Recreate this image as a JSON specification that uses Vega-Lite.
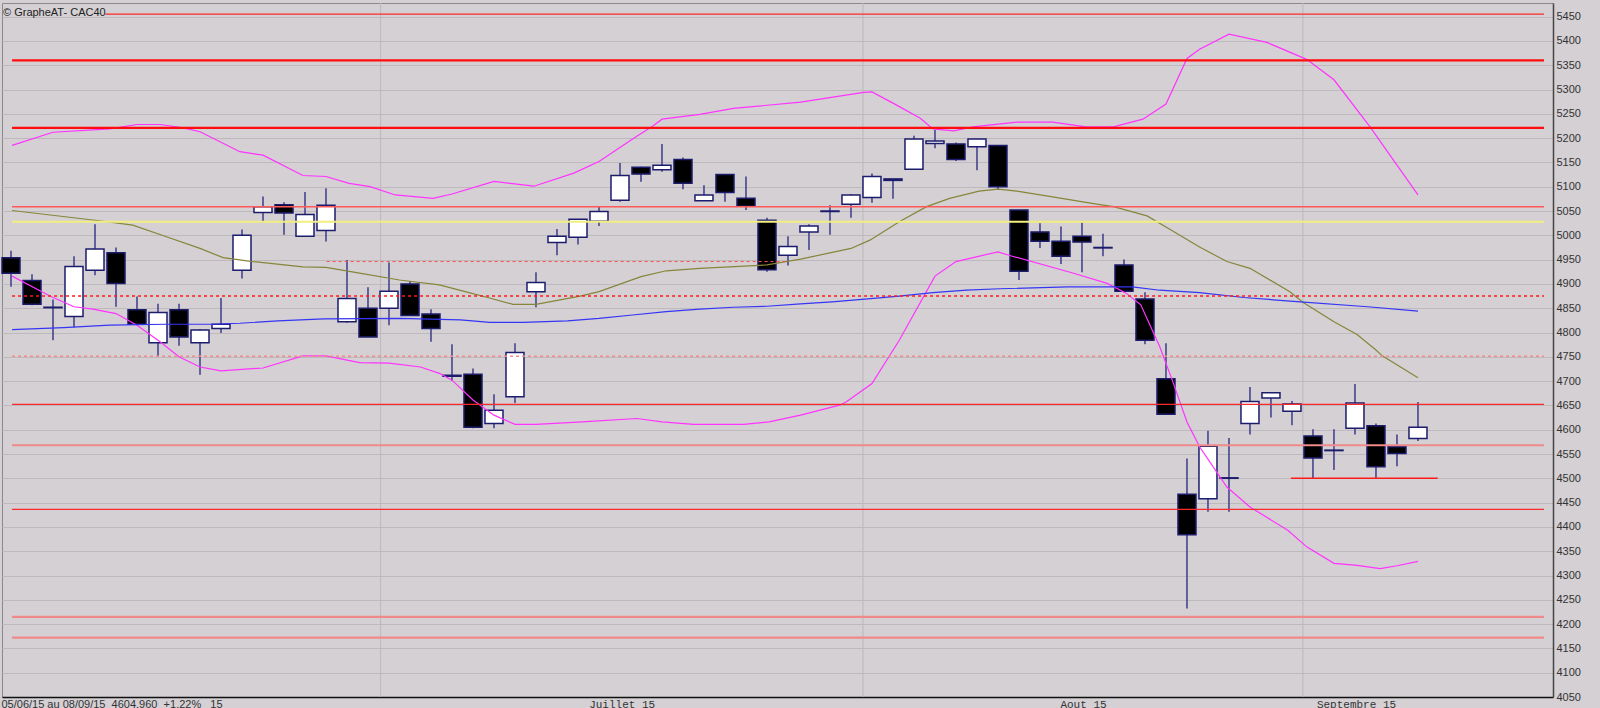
{
  "$schema": "https://vega.github.io/schema/vega-lite/v6.json",
  "autosize": {"type": "none"},
  "width": 1551,
  "height": 694,
  "padding": {"left": 2, "top": 3, "right": 47, "bottom": 11},
  "background": "#d4d0d4",
  "title": {"text": "© GrapheAT- CAC40", "anchor": "start", "frame": "group", "orient": "top", "offset": 0, "dy": 15, "dx": 1, "font": "Liberation Sans", "fontSize": 11, "fontWeight": "normal", "color": "#222222"},
  "config": {"view": {"fill": "#d4d0d4", "stroke": "#8a8a8a", "strokeWidth": 1}, "font": "Liberation Sans"},
  "datasets": {
    "mois": [{"b": 17.6}, {"b": 40.57}, {"b": 61.52}],
    "bougies": [
      {"i":0,"o":4954,"h":4968,"l":4894,"c":4922},
      {"i":1,"o":4907,"h":4920,"l":4856,"c":4858},
      {"i":2,"o":4852,"h":4868,"l":4784,"c":4851},
      {"i":3,"o":4833,"h":4957,"l":4811,"c":4936},
      {"i":4,"o":4928,"h":5023,"l":4918,"c":4972},
      {"i":5,"o":4964,"h":4975,"l":4853,"c":4901},
      {"i":6,"o":4847,"h":4874,"l":4815,"c":4817},
      {"i":7,"o":4779,"h":4859,"l":4750,"c":4841},
      {"i":8,"o":4847,"h":4859,"l":4773,"c":4791},
      {"i":9,"o":4779,"h":4807,"l":4713,"c":4805},
      {"i":10,"o":4808,"h":4871,"l":4799,"c":4817},
      {"i":11,"o":4928,"h":5012,"l":4911,"c":5000},
      {"i":12,"o":5047,"h":5080,"l":5027,"c":5059},
      {"i":13,"o":5063,"h":5068,"l":5001,"c":5046},
      {"i":14,"o":4998,"h":5089,"l":4998,"c":5043},
      {"i":15,"o":5010,"h":5097,"l":4987,"c":5062},
      {"i":16,"o":4822,"h":4949,"l":4820,"c":4870},
      {"i":17,"o":4850,"h":4893,"l":4791,"c":4791},
      {"i":18,"o":4850,"h":4944,"l":4815,"c":4885},
      {"i":19,"o":4900,"h":4906,"l":4834,"c":4835},
      {"i":20,"o":4838,"h":4848,"l":4781,"c":4808},
      {"i":21,"o":4712,"h":4776,"l":4700,"c":4710},
      {"i":22,"o":4714,"h":4726,"l":4603,"c":4605},
      {"i":23,"o":4613,"h":4673,"l":4603,"c":4640},
      {"i":24,"o":4668,"h":4778,"l":4655,"c":4759},
      {"i":25,"o":4884,"h":4924,"l":4852,"c":4903},
      {"i":26,"o":4985,"h":5013,"l":4959,"c":4998},
      {"i":27,"o":4996,"h":5033,"l":4981,"c":5033},
      {"i":28,"o":5029,"h":5058,"l":5019,"c":5049},
      {"i":29,"o":5072,"h":5149,"l":5069,"c":5123},
      {"i":30,"o":5140,"h":5141,"l":5110,"c":5126},
      {"i":31,"o":5135,"h":5188,"l":5131,"c":5144},
      {"i":32,"o":5156,"h":5160,"l":5095,"c":5107},
      {"i":33,"o":5071,"h":5103,"l":5071,"c":5083},
      {"i":34,"o":5125,"h":5125,"l":5069,"c":5088},
      {"i":35,"o":5076,"h":5121,"l":5052,"c":5060},
      {"i":36,"o":5031,"h":5036,"l":4925,"c":4929},
      {"i":37,"o":4959,"h":4998,"l":4938,"c":4977},
      {"i":38,"o":5007,"h":5023,"l":4970,"c":5019},
      {"i":39,"o":5050,"h":5062,"l":5001,"c":5049},
      {"i":40,"o":5064,"h":5085,"l":5036,"c":5083},
      {"i":41,"o":5078,"h":5127,"l":5067,"c":5121},
      {"i":42,"o":5116,"h":5116,"l":5075,"c":5113},
      {"i":43,"o":5136,"h":5205,"l":5136,"c":5198},
      {"i":44,"o":5189,"h":5217,"l":5179,"c":5194},
      {"i":45,"o":5188,"h":5191,"l":5153,"c":5156},
      {"i":46,"o":5182,"h":5198,"l":5134,"c":5198},
      {"i":47,"o":5185,"h":5185,"l":5095,"c":5100},
      {"i":48,"o":5052,"h":5052,"l":4908,"c":4926},
      {"i":49,"o":5007,"h":5025,"l":4974,"c":4988},
      {"i":50,"o":4988,"h":5018,"l":4941,"c":4957},
      {"i":51,"o":4998,"h":5026,"l":4924,"c":4986},
      {"i":52,"o":4975,"h":5003,"l":4957,"c":4974},
      {"i":53,"o":4939,"h":4950,"l":4885,"c":4885},
      {"i":54,"o":4869,"h":4883,"l":4776,"c":4784},
      {"i":55,"o":4705,"h":4778,"l":4632,"c":4632},
      {"i":56,"o":4467,"h":4541,"l":4232,"c":4384},
      {"i":57,"o":4458,"h":4598,"l":4431,"c":4566},
      {"i":58,"o":4501,"h":4583,"l":4431,"c":4500},
      {"i":59,"o":4613,"h":4688,"l":4590,"c":4658},
      {"i":60,"o":4665,"h":4676,"l":4625,"c":4676},
      {"i":61,"o":4638,"h":4659,"l":4609,"c":4653},
      {"i":62,"o":4587,"h":4601,"l":4500,"c":4542},
      {"i":63,"o":4558,"h":4601,"l":4517,"c":4557},
      {"i":64,"o":4603,"h":4694,"l":4590,"c":4655},
      {"i":65,"o":4608,"h":4613,"l":4500,"c":4524},
      {"i":66,"o":4565,"h":4590,"l":4525,"c":4551},
      {"i":67,"o":4582,"h":4657,"l":4577,"c":4605}
    ],
    "moyennes": [
      {"s":"haut","i":0.05,"v":5185},{"s":"haut","i":2.0,"v":5212},{"s":"haut","i":4.7,"v":5219},{"s":"haut","i":6.0,"v":5228},{"s":"haut","i":7.1,"v":5228},{"s":"haut","i":8.2,"v":5221},{"s":"haut","i":9.0,"v":5213},{"s":"haut","i":10.9,"v":5172},{"s":"haut","i":12.0,"v":5165},{"s":"haut","i":13.9,"v":5123},{"s":"haut","i":15.0,"v":5121},{"s":"haut","i":16.1,"v":5107},{"s":"haut","i":17.1,"v":5100},{"s":"haut","i":18.3,"v":5083},{"s":"haut","i":20.1,"v":5076},{"s":"haut","i":21.0,"v":5085},{"s":"haut","i":23.0,"v":5111},{"s":"haut","i":24.9,"v":5101},{"s":"haut","i":26.8,"v":5128},{"s":"haut","i":28.0,"v":5152},{"s":"haut","i":29.6,"v":5198},{"s":"haut","i":30.6,"v":5226},{"s":"haut","i":31.0,"v":5239},{"s":"haut","i":32.8,"v":5249},{"s":"haut","i":34.4,"v":5261},{"s":"haut","i":37.6,"v":5274},{"s":"haut","i":40.6,"v":5294},{"s":"haut","i":41.0,"v":5295},{"s":"haut","i":42.0,"v":5272},{"s":"haut","i":43.3,"v":5241},{"s":"haut","i":43.9,"v":5219},{"s":"haut","i":44.9,"v":5215},{"s":"haut","i":45.8,"v":5223},{"s":"haut","i":47.9,"v":5233},{"s":"haut","i":49.6,"v":5233},{"s":"haut","i":51.2,"v":5223},{"s":"haut","i":52.5,"v":5223},{"s":"haut","i":53.9,"v":5239},{"s":"haut","i":55.0,"v":5270},{"s":"haut","i":56.0,"v":5364},{"s":"haut","i":56.6,"v":5383},{"s":"haut","i":58.0,"v":5414},{"s":"haut","i":59.8,"v":5397},{"s":"haut","i":61.7,"v":5362},{"s":"haut","i":63.0,"v":5320},{"s":"haut","i":64.7,"v":5224},{"s":"haut","i":67.0,"v":5083},
      {"s":"moyenne","i":0.05,"v":5051},{"s":"moyenne","i":4.2,"v":5030},{"s":"moyenne","i":5.8,"v":5021},{"s":"moyenne","i":7.4,"v":4997},{"s":"moyenne","i":9.0,"v":4973},{"s":"moyenne","i":10.1,"v":4954},{"s":"moyenne","i":11.5,"v":4946},{"s":"moyenne","i":13.9,"v":4935},{"s":"moyenne","i":15.0,"v":4934},{"s":"moyenne","i":16.6,"v":4922},{"s":"moyenne","i":18.5,"v":4908},{"s":"moyenne","i":20.4,"v":4898},{"s":"moyenne","i":21.9,"v":4881},{"s":"moyenne","i":22.7,"v":4872},{"s":"moyenne","i":23.9,"v":4858},{"s":"moyenne","i":25.0,"v":4858},{"s":"moyenne","i":27.1,"v":4875},{"s":"moyenne","i":28.0,"v":4884},{"s":"moyenne","i":30.0,"v":4915},{"s":"moyenne","i":31.2,"v":4927},{"s":"moyenne","i":32.8,"v":4932},{"s":"moyenne","i":36.0,"v":4939},{"s":"moyenne","i":37.6,"v":4951},{"s":"moyenne","i":40.0,"v":4973},{"s":"moyenne","i":40.9,"v":4990},{"s":"moyenne","i":42.3,"v":5028},{"s":"moyenne","i":43.6,"v":5059},{"s":"moyenne","i":44.7,"v":5076},{"s":"moyenne","i":46.1,"v":5091},{"s":"moyenne","i":47.0,"v":5095},{"s":"moyenne","i":47.9,"v":5091},{"s":"moyenne","i":49.6,"v":5079},{"s":"moyenne","i":51.7,"v":5064},{"s":"moyenne","i":52.5,"v":5059},{"s":"moyenne","i":54.1,"v":5040},{"s":"moyenne","i":55.2,"v":5012},{"s":"moyenne","i":56.6,"v":4976},{"s":"moyenne","i":57.9,"v":4946},{"s":"moyenne","i":59.0,"v":4932},{"s":"moyenne","i":60.9,"v":4884},{"s":"moyenne","i":61.5,"v":4863},{"s":"moyenne","i":63.0,"v":4822},{"s":"moyenne","i":64.1,"v":4796},{"s":"moyenne","i":65.0,"v":4764},{"s":"moyenne","i":65.3,"v":4752},{"s":"moyenne","i":67.0,"v":4707},
      {"s":"bas","i":0.05,"v":4916},{"s":"bas","i":1.9,"v":4874},{"s":"bas","i":3.0,"v":4853},{"s":"bas","i":3.9,"v":4848},{"s":"bas","i":5.0,"v":4839},{"s":"bas","i":6.0,"v":4815},{"s":"bas","i":7.1,"v":4781},{"s":"bas","i":8.0,"v":4750},{"s":"bas","i":9.0,"v":4729},{"s":"bas","i":10.0,"v":4721},{"s":"bas","i":12.0,"v":4727},{"s":"bas","i":13.9,"v":4752},{"s":"bas","i":15.0,"v":4752},{"s":"bas","i":16.6,"v":4738},{"s":"bas","i":18.0,"v":4737},{"s":"bas","i":19.5,"v":4729},{"s":"bas","i":20.4,"v":4716},{"s":"bas","i":21.0,"v":4702},{"s":"bas","i":22.0,"v":4661},{"s":"bas","i":23.0,"v":4630},{"s":"bas","i":24.0,"v":4611},{"s":"bas","i":25.0,"v":4611},{"s":"bas","i":27.2,"v":4616},{"s":"bas","i":29.8,"v":4623},{"s":"bas","i":31.0,"v":4616},{"s":"bas","i":32.5,"v":4611},{"s":"bas","i":34.9,"v":4611},{"s":"bas","i":36.1,"v":4616},{"s":"bas","i":37.6,"v":4630},{"s":"bas","i":39.5,"v":4651},{"s":"bas","i":39.8,"v":4658},{"s":"bas","i":41.0,"v":4695},{"s":"bas","i":42.3,"v":4784},{"s":"bas","i":44.0,"v":4916},{"s":"bas","i":45.0,"v":4946},{"s":"bas","i":47.0,"v":4966},{"s":"bas","i":47.6,"v":4958},{"s":"bas","i":50.6,"v":4922},{"s":"bas","i":52.2,"v":4901},{"s":"bas","i":53.1,"v":4881},{"s":"bas","i":53.8,"v":4857},{"s":"bas","i":54.7,"v":4771},{"s":"bas","i":55.3,"v":4702},{"s":"bas","i":56.0,"v":4616},{"s":"bas","i":56.6,"v":4565},{"s":"bas","i":57.9,"v":4482},{"s":"bas","i":59.0,"v":4441},{"s":"bas","i":60.8,"v":4393},{"s":"bas","i":61.7,"v":4359},{"s":"bas","i":63.0,"v":4325},{"s":"bas","i":64.1,"v":4321},{"s":"bas","i":65.2,"v":4314},{"s":"bas","i":66.0,"v":4320},{"s":"bas","i":67.0,"v":4329},
      {"s":"longue","i":0.05,"v":4806},{"s":"longue","i":2.5,"v":4810},{"s":"longue","i":4.7,"v":4815},{"s":"longue","i":7.4,"v":4817},{"s":"longue","i":9.6,"v":4817},{"s":"longue","i":10.9,"v":4819},{"s":"longue","i":12.7,"v":4824},{"s":"longue","i":14.9,"v":4828},{"s":"longue","i":18.5,"v":4829},{"s":"longue","i":21.4,"v":4826},{"s":"longue","i":22.8,"v":4821},{"s":"longue","i":24.4,"v":4821},{"s":"longue","i":26.5,"v":4824},{"s":"longue","i":28.0,"v":4829},{"s":"longue","i":29.6,"v":4836},{"s":"longue","i":31.2,"v":4843},{"s":"longue","i":32.8,"v":4848},{"s":"longue","i":34.4,"v":4852},{"s":"longue","i":36.0,"v":4854},{"s":"longue","i":37.6,"v":4859},{"s":"longue","i":39.1,"v":4863},{"s":"longue","i":40.8,"v":4869},{"s":"longue","i":42.3,"v":4875},{"s":"longue","i":43.9,"v":4882},{"s":"longue","i":45.5,"v":4887},{"s":"longue","i":47.1,"v":4890},{"s":"longue","i":50.3,"v":4894},{"s":"longue","i":53.4,"v":4894},{"s":"longue","i":54.7,"v":4887},{"s":"longue","i":56.6,"v":4882},{"s":"longue","i":58.7,"v":4872},{"s":"longue","i":61.4,"v":4863},{"s":"longue","i":64.6,"v":4853},{"s":"longue","i":67.0,"v":4844}
    ],
    "niveaux": [
      {"v":5455,"a":4.5,"b":73,"k":"fin"},
      {"v":5360,"a":0.05,"b":73,"k":"fort"},
      {"v":5221,"a":0.05,"b":73,"k":"fort"},
      {"v":5059,"a":0.05,"b":73,"k":"corail"},
      {"v":5028,"a":0.05,"b":73,"k":"jaune"},
      {"v":4946,"a":15.03,"b":36.86,"k":"tirets"},
      {"v":4875,"a":0.05,"b":73,"k":"tirets forts"},
      {"v":4751,"a":0.05,"b":73,"k":"tirets clairs"},
      {"v":4652,"a":0.05,"b":73,"k":"fin"},
      {"v":4568,"a":0.05,"b":73,"k":"saumon"},
      {"v":4500,"a":60.95,"b":67.94,"k":"support"},
      {"v":4436,"a":0.05,"b":73,"k":"fin"},
      {"v":4215,"a":0.05,"b":73,"k":"saumon"},
      {"v":4172,"a":0.05,"b":73,"k":"saumon"}
    ]
  },
  "layer": [
    {
      "data": {"name": "mois"},
      "mark": {"type": "rule", "color": "#bcb8bc", "strokeWidth": 1},
      "encoding": {
        "x": {"field": "b", "type": "quantitative", "scale": {"domain": [-0.4286, 73.43], "nice": false, "zero": false, "padding": 0},
          "axis": {"orient": "bottom", "values": [29.08, 51.05, 64.05], "labelExpr": "datum.value < 40 ? 'Juillet 15' : datum.value < 60 ? 'Aout 15' : 'Septembre 15'", "title": "05/06/15 au 08/09/15\u00a0\u00a04604.960\u00a0\u00a0+1.22%\u00a0\u00a0\u00a015", "titleAnchor": "start", "titleAlign": "left", "titleBaseline": "top", "titleX": -1, "titleY": 1, "titleFont": "Liberation Sans", "titleFontSize": 11, "titleFontWeight": "normal", "titleColor": "#333333", "ticks": false, "grid": false, "domain": true, "domainColor": "#101010", "domainWidth": 1.5, "labelFont": "Liberation Mono", "labelFontSize": 11, "labelColor": "#333333", "labelBaseline": "top", "labelPadding": 1, "labelFlush": false, "labelOverlap": false}}
      }
    },
    {
      "data": {"name": "bougies"},
      "mark": {"type": "rule", "color": "#3c3c88", "strokeWidth": 1.5},
      "encoding": {
        "x": {"field": "i", "type": "quantitative", "scale": {"domain": [-0.4286, 73.43], "nice": false, "zero": false, "padding": 0},
          "axis": {"orient": "bottom", "values": [29.08, 51.05, 64.05], "labelExpr": "datum.value < 40 ? 'Juillet 15' : datum.value < 60 ? 'Aout 15' : 'Septembre 15'", "title": "05/06/15 au 08/09/15\u00a0\u00a04604.960\u00a0\u00a0+1.22%\u00a0\u00a0\u00a015", "titleAnchor": "start", "titleAlign": "left", "titleBaseline": "top", "titleX": -1, "titleY": 1, "titleFont": "Liberation Sans", "titleFontSize": 11, "titleFontWeight": "normal", "titleColor": "#333333", "ticks": false, "grid": false, "domain": true, "domainColor": "#101010", "domainWidth": 1.5, "labelFont": "Liberation Mono", "labelFontSize": 11, "labelColor": "#333333", "labelBaseline": "top", "labelPadding": 1, "labelFlush": false, "labelOverlap": false}},
        "y": {"field": "l", "type": "quantitative", "scale": {"domain": [4050, 5478], "nice": false, "zero": false, "padding": 0},
          "axis": {"orient": "right", "format": "d", "values": [4050,4100,4150,4200,4250,4300,4350,4400,4450,4500,4550,4600,4650,4700,4750,4800,4850,4900,4950,5000,5050,5100,5150,5200,5250,5300,5350,5400,5450], "title": null, "ticks": false, "labelPadding": 3, "labelFont": "Liberation Sans", "labelFontSize": 11, "labelColor": "#333333", "grid": true, "gridColor": "#bdb9bd", "gridWidth": 1, "domain": true, "domainColor": "#454545", "domainWidth": 1.5, "labelFlush": false, "labelOverlap": false}},
        "y2": {"field": "h"}
      }
    },
    {
      "data": {"name": "bougies"},
      "mark": {"type": "bar", "size": 18, "stroke": "#1c1c6c", "strokeWidth": 1.5},
      "encoding": {
        "x": {"field": "i", "type": "quantitative", "scale": {"domain": [-0.4286, 73.43], "nice": false, "zero": false, "padding": 0},
          "axis": {"orient": "bottom", "values": [29.08, 51.05, 64.05], "labelExpr": "datum.value < 40 ? 'Juillet 15' : datum.value < 60 ? 'Aout 15' : 'Septembre 15'", "title": "05/06/15 au 08/09/15\u00a0\u00a04604.960\u00a0\u00a0+1.22%\u00a0\u00a0\u00a015", "titleAnchor": "start", "titleAlign": "left", "titleBaseline": "top", "titleX": -1, "titleY": 1, "titleFont": "Liberation Sans", "titleFontSize": 11, "titleFontWeight": "normal", "titleColor": "#333333", "ticks": false, "grid": false, "domain": true, "domainColor": "#101010", "domainWidth": 1.5, "labelFont": "Liberation Mono", "labelFontSize": 11, "labelColor": "#333333", "labelBaseline": "top", "labelPadding": 1, "labelFlush": false, "labelOverlap": false}},
        "y": {"field": "o", "type": "quantitative", "scale": {"domain": [4050, 5478], "nice": false, "zero": false, "padding": 0},
          "axis": {"orient": "right", "format": "d", "values": [4050,4100,4150,4200,4250,4300,4350,4400,4450,4500,4550,4600,4650,4700,4750,4800,4850,4900,4950,5000,5050,5100,5150,5200,5250,5300,5350,5400,5450], "title": null, "ticks": false, "labelPadding": 3, "labelFont": "Liberation Sans", "labelFontSize": 11, "labelColor": "#333333", "grid": true, "gridColor": "#bdb9bd", "gridWidth": 1, "domain": true, "domainColor": "#454545", "domainWidth": 1.5, "labelFlush": false, "labelOverlap": false}},
        "y2": {"field": "c"},
        "fill": {"condition": {"test": "datum.c < datum.o", "value": "#000000"}, "value": "#ffffff"}
      }
    },
    {
      "data": {"name": "moyennes"},
      "mark": {"type": "line", "strokeWidth": 1.2},
      "encoding": {
        "x": {"field": "i", "type": "quantitative", "scale": {"domain": [-0.4286, 73.43], "nice": false, "zero": false, "padding": 0},
          "axis": {"orient": "bottom", "values": [29.08, 51.05, 64.05], "labelExpr": "datum.value < 40 ? 'Juillet 15' : datum.value < 60 ? 'Aout 15' : 'Septembre 15'", "title": "05/06/15 au 08/09/15\u00a0\u00a04604.960\u00a0\u00a0+1.22%\u00a0\u00a0\u00a015", "titleAnchor": "start", "titleAlign": "left", "titleBaseline": "top", "titleX": -1, "titleY": 1, "titleFont": "Liberation Sans", "titleFontSize": 11, "titleFontWeight": "normal", "titleColor": "#333333", "ticks": false, "grid": false, "domain": true, "domainColor": "#101010", "domainWidth": 1.5, "labelFont": "Liberation Mono", "labelFontSize": 11, "labelColor": "#333333", "labelBaseline": "top", "labelPadding": 1, "labelFlush": false, "labelOverlap": false}},
        "y": {"field": "v", "type": "quantitative", "scale": {"domain": [4050, 5478], "nice": false, "zero": false, "padding": 0},
          "axis": {"orient": "right", "format": "d", "values": [4050,4100,4150,4200,4250,4300,4350,4400,4450,4500,4550,4600,4650,4700,4750,4800,4850,4900,4950,5000,5050,5100,5150,5200,5250,5300,5350,5400,5450], "title": null, "ticks": false, "labelPadding": 3, "labelFont": "Liberation Sans", "labelFontSize": 11, "labelColor": "#333333", "grid": true, "gridColor": "#bdb9bd", "gridWidth": 1, "domain": true, "domainColor": "#454545", "domainWidth": 1.5, "labelFlush": false, "labelOverlap": false}},
        "color": {"field": "s", "type": "nominal", "scale": {"domain": ["haut", "bas", "moyenne", "longue"], "range": ["#ff33ff", "#ff33ff", "#86863a", "#3535f5"]}, "legend": null}
      }
    },
    {
      "data": {"name": "niveaux"},
      "transform": [{"filter": "datum.k == 'fort'"}],
      "mark": {"type": "rule", "color": "#ff0d0d", "strokeWidth": 2.2},
      "encoding": {
        "x": {"field": "a", "type": "quantitative", "scale": {"domain": [-0.4286, 73.43], "nice": false, "zero": false, "padding": 0},
          "axis": {"orient": "bottom", "values": [29.08, 51.05, 64.05], "labelExpr": "datum.value < 40 ? 'Juillet 15' : datum.value < 60 ? 'Aout 15' : 'Septembre 15'", "title": "05/06/15 au 08/09/15\u00a0\u00a04604.960\u00a0\u00a0+1.22%\u00a0\u00a0\u00a015", "titleAnchor": "start", "titleAlign": "left", "titleBaseline": "top", "titleX": -1, "titleY": 1, "titleFont": "Liberation Sans", "titleFontSize": 11, "titleFontWeight": "normal", "titleColor": "#333333", "ticks": false, "grid": false, "domain": true, "domainColor": "#101010", "domainWidth": 1.5, "labelFont": "Liberation Mono", "labelFontSize": 11, "labelColor": "#333333", "labelBaseline": "top", "labelPadding": 1, "labelFlush": false, "labelOverlap": false}},
        "x2": {"field": "b"},
        "y": {"field": "v", "type": "quantitative", "scale": {"domain": [4050, 5478], "nice": false, "zero": false, "padding": 0},
          "axis": {"orient": "right", "format": "d", "values": [4050,4100,4150,4200,4250,4300,4350,4400,4450,4500,4550,4600,4650,4700,4750,4800,4850,4900,4950,5000,5050,5100,5150,5200,5250,5300,5350,5400,5450], "title": null, "ticks": false, "labelPadding": 3, "labelFont": "Liberation Sans", "labelFontSize": 11, "labelColor": "#333333", "grid": true, "gridColor": "#bdb9bd", "gridWidth": 1, "domain": true, "domainColor": "#454545", "domainWidth": 1.5, "labelFlush": false, "labelOverlap": false}}
      }
    },
    {
      "data": {"name": "niveaux"},
      "transform": [{"filter": "datum.k == 'fin'"}],
      "mark": {"type": "rule", "color": "#fa2a2a", "strokeWidth": 1.2},
      "encoding": {
        "x": {"field": "a", "type": "quantitative", "scale": {"domain": [-0.4286, 73.43], "nice": false, "zero": false, "padding": 0},
          "axis": {"orient": "bottom", "values": [29.08, 51.05, 64.05], "labelExpr": "datum.value < 40 ? 'Juillet 15' : datum.value < 60 ? 'Aout 15' : 'Septembre 15'", "title": "05/06/15 au 08/09/15\u00a0\u00a04604.960\u00a0\u00a0+1.22%\u00a0\u00a0\u00a015", "titleAnchor": "start", "titleAlign": "left", "titleBaseline": "top", "titleX": -1, "titleY": 1, "titleFont": "Liberation Sans", "titleFontSize": 11, "titleFontWeight": "normal", "titleColor": "#333333", "ticks": false, "grid": false, "domain": true, "domainColor": "#101010", "domainWidth": 1.5, "labelFont": "Liberation Mono", "labelFontSize": 11, "labelColor": "#333333", "labelBaseline": "top", "labelPadding": 1, "labelFlush": false, "labelOverlap": false}},
        "x2": {"field": "b"},
        "y": {"field": "v", "type": "quantitative", "scale": {"domain": [4050, 5478], "nice": false, "zero": false, "padding": 0},
          "axis": {"orient": "right", "format": "d", "values": [4050,4100,4150,4200,4250,4300,4350,4400,4450,4500,4550,4600,4650,4700,4750,4800,4850,4900,4950,5000,5050,5100,5150,5200,5250,5300,5350,5400,5450], "title": null, "ticks": false, "labelPadding": 3, "labelFont": "Liberation Sans", "labelFontSize": 11, "labelColor": "#333333", "grid": true, "gridColor": "#bdb9bd", "gridWidth": 1, "domain": true, "domainColor": "#454545", "domainWidth": 1.5, "labelFlush": false, "labelOverlap": false}}
      }
    },
    {
      "data": {"name": "niveaux"},
      "transform": [{"filter": "datum.k == 'corail'"}],
      "mark": {"type": "rule", "color": "#ff5858", "strokeWidth": 1.5},
      "encoding": {
        "x": {"field": "a", "type": "quantitative", "scale": {"domain": [-0.4286, 73.43], "nice": false, "zero": false, "padding": 0},
          "axis": {"orient": "bottom", "values": [29.08, 51.05, 64.05], "labelExpr": "datum.value < 40 ? 'Juillet 15' : datum.value < 60 ? 'Aout 15' : 'Septembre 15'", "title": "05/06/15 au 08/09/15\u00a0\u00a04604.960\u00a0\u00a0+1.22%\u00a0\u00a0\u00a015", "titleAnchor": "start", "titleAlign": "left", "titleBaseline": "top", "titleX": -1, "titleY": 1, "titleFont": "Liberation Sans", "titleFontSize": 11, "titleFontWeight": "normal", "titleColor": "#333333", "ticks": false, "grid": false, "domain": true, "domainColor": "#101010", "domainWidth": 1.5, "labelFont": "Liberation Mono", "labelFontSize": 11, "labelColor": "#333333", "labelBaseline": "top", "labelPadding": 1, "labelFlush": false, "labelOverlap": false}},
        "x2": {"field": "b"},
        "y": {"field": "v", "type": "quantitative", "scale": {"domain": [4050, 5478], "nice": false, "zero": false, "padding": 0},
          "axis": {"orient": "right", "format": "d", "values": [4050,4100,4150,4200,4250,4300,4350,4400,4450,4500,4550,4600,4650,4700,4750,4800,4850,4900,4950,5000,5050,5100,5150,5200,5250,5300,5350,5400,5450], "title": null, "ticks": false, "labelPadding": 3, "labelFont": "Liberation Sans", "labelFontSize": 11, "labelColor": "#333333", "grid": true, "gridColor": "#bdb9bd", "gridWidth": 1, "domain": true, "domainColor": "#454545", "domainWidth": 1.5, "labelFlush": false, "labelOverlap": false}}
      }
    },
    {
      "data": {"name": "niveaux"},
      "transform": [{"filter": "datum.k == 'jaune'"}],
      "mark": {"type": "rule", "color": "#f2ee80", "strokeWidth": 2},
      "encoding": {
        "x": {"field": "a", "type": "quantitative", "scale": {"domain": [-0.4286, 73.43], "nice": false, "zero": false, "padding": 0},
          "axis": {"orient": "bottom", "values": [29.08, 51.05, 64.05], "labelExpr": "datum.value < 40 ? 'Juillet 15' : datum.value < 60 ? 'Aout 15' : 'Septembre 15'", "title": "05/06/15 au 08/09/15\u00a0\u00a04604.960\u00a0\u00a0+1.22%\u00a0\u00a0\u00a015", "titleAnchor": "start", "titleAlign": "left", "titleBaseline": "top", "titleX": -1, "titleY": 1, "titleFont": "Liberation Sans", "titleFontSize": 11, "titleFontWeight": "normal", "titleColor": "#333333", "ticks": false, "grid": false, "domain": true, "domainColor": "#101010", "domainWidth": 1.5, "labelFont": "Liberation Mono", "labelFontSize": 11, "labelColor": "#333333", "labelBaseline": "top", "labelPadding": 1, "labelFlush": false, "labelOverlap": false}},
        "x2": {"field": "b"},
        "y": {"field": "v", "type": "quantitative", "scale": {"domain": [4050, 5478], "nice": false, "zero": false, "padding": 0},
          "axis": {"orient": "right", "format": "d", "values": [4050,4100,4150,4200,4250,4300,4350,4400,4450,4500,4550,4600,4650,4700,4750,4800,4850,4900,4950,5000,5050,5100,5150,5200,5250,5300,5350,5400,5450], "title": null, "ticks": false, "labelPadding": 3, "labelFont": "Liberation Sans", "labelFontSize": 11, "labelColor": "#333333", "grid": true, "gridColor": "#bdb9bd", "gridWidth": 1, "domain": true, "domainColor": "#454545", "domainWidth": 1.5, "labelFlush": false, "labelOverlap": false}}
      }
    },
    {
      "data": {"name": "niveaux"},
      "transform": [{"filter": "datum.k == 'tirets'"}],
      "mark": {"type": "rule", "color": "#ff5050", "strokeWidth": 1, "strokeDash": [3, 3]},
      "encoding": {
        "x": {"field": "a", "type": "quantitative", "scale": {"domain": [-0.4286, 73.43], "nice": false, "zero": false, "padding": 0},
          "axis": {"orient": "bottom", "values": [29.08, 51.05, 64.05], "labelExpr": "datum.value < 40 ? 'Juillet 15' : datum.value < 60 ? 'Aout 15' : 'Septembre 15'", "title": "05/06/15 au 08/09/15\u00a0\u00a04604.960\u00a0\u00a0+1.22%\u00a0\u00a0\u00a015", "titleAnchor": "start", "titleAlign": "left", "titleBaseline": "top", "titleX": -1, "titleY": 1, "titleFont": "Liberation Sans", "titleFontSize": 11, "titleFontWeight": "normal", "titleColor": "#333333", "ticks": false, "grid": false, "domain": true, "domainColor": "#101010", "domainWidth": 1.5, "labelFont": "Liberation Mono", "labelFontSize": 11, "labelColor": "#333333", "labelBaseline": "top", "labelPadding": 1, "labelFlush": false, "labelOverlap": false}},
        "x2": {"field": "b"},
        "y": {"field": "v", "type": "quantitative", "scale": {"domain": [4050, 5478], "nice": false, "zero": false, "padding": 0},
          "axis": {"orient": "right", "format": "d", "values": [4050,4100,4150,4200,4250,4300,4350,4400,4450,4500,4550,4600,4650,4700,4750,4800,4850,4900,4950,5000,5050,5100,5150,5200,5250,5300,5350,5400,5450], "title": null, "ticks": false, "labelPadding": 3, "labelFont": "Liberation Sans", "labelFontSize": 11, "labelColor": "#333333", "grid": true, "gridColor": "#bdb9bd", "gridWidth": 1, "domain": true, "domainColor": "#454545", "domainWidth": 1.5, "labelFlush": false, "labelOverlap": false}}
      }
    },
    {
      "data": {"name": "niveaux"},
      "transform": [{"filter": "datum.k == 'tirets forts'"}],
      "mark": {"type": "rule", "color": "#ff1a1a", "strokeWidth": 1.5, "strokeDash": [3, 3]},
      "encoding": {
        "x": {"field": "a", "type": "quantitative", "scale": {"domain": [-0.4286, 73.43], "nice": false, "zero": false, "padding": 0},
          "axis": {"orient": "bottom", "values": [29.08, 51.05, 64.05], "labelExpr": "datum.value < 40 ? 'Juillet 15' : datum.value < 60 ? 'Aout 15' : 'Septembre 15'", "title": "05/06/15 au 08/09/15\u00a0\u00a04604.960\u00a0\u00a0+1.22%\u00a0\u00a0\u00a015", "titleAnchor": "start", "titleAlign": "left", "titleBaseline": "top", "titleX": -1, "titleY": 1, "titleFont": "Liberation Sans", "titleFontSize": 11, "titleFontWeight": "normal", "titleColor": "#333333", "ticks": false, "grid": false, "domain": true, "domainColor": "#101010", "domainWidth": 1.5, "labelFont": "Liberation Mono", "labelFontSize": 11, "labelColor": "#333333", "labelBaseline": "top", "labelPadding": 1, "labelFlush": false, "labelOverlap": false}},
        "x2": {"field": "b"},
        "y": {"field": "v", "type": "quantitative", "scale": {"domain": [4050, 5478], "nice": false, "zero": false, "padding": 0},
          "axis": {"orient": "right", "format": "d", "values": [4050,4100,4150,4200,4250,4300,4350,4400,4450,4500,4550,4600,4650,4700,4750,4800,4850,4900,4950,5000,5050,5100,5150,5200,5250,5300,5350,5400,5450], "title": null, "ticks": false, "labelPadding": 3, "labelFont": "Liberation Sans", "labelFontSize": 11, "labelColor": "#333333", "grid": true, "gridColor": "#bdb9bd", "gridWidth": 1, "domain": true, "domainColor": "#454545", "domainWidth": 1.5, "labelFlush": false, "labelOverlap": false}}
      }
    },
    {
      "data": {"name": "niveaux"},
      "transform": [{"filter": "datum.k == 'tirets clairs'"}],
      "mark": {"type": "rule", "color": "#f58a8a", "strokeWidth": 1.5, "strokeDash": [3, 3]},
      "encoding": {
        "x": {"field": "a", "type": "quantitative", "scale": {"domain": [-0.4286, 73.43], "nice": false, "zero": false, "padding": 0},
          "axis": {"orient": "bottom", "values": [29.08, 51.05, 64.05], "labelExpr": "datum.value < 40 ? 'Juillet 15' : datum.value < 60 ? 'Aout 15' : 'Septembre 15'", "title": "05/06/15 au 08/09/15\u00a0\u00a04604.960\u00a0\u00a0+1.22%\u00a0\u00a0\u00a015", "titleAnchor": "start", "titleAlign": "left", "titleBaseline": "top", "titleX": -1, "titleY": 1, "titleFont": "Liberation Sans", "titleFontSize": 11, "titleFontWeight": "normal", "titleColor": "#333333", "ticks": false, "grid": false, "domain": true, "domainColor": "#101010", "domainWidth": 1.5, "labelFont": "Liberation Mono", "labelFontSize": 11, "labelColor": "#333333", "labelBaseline": "top", "labelPadding": 1, "labelFlush": false, "labelOverlap": false}},
        "x2": {"field": "b"},
        "y": {"field": "v", "type": "quantitative", "scale": {"domain": [4050, 5478], "nice": false, "zero": false, "padding": 0},
          "axis": {"orient": "right", "format": "d", "values": [4050,4100,4150,4200,4250,4300,4350,4400,4450,4500,4550,4600,4650,4700,4750,4800,4850,4900,4950,5000,5050,5100,5150,5200,5250,5300,5350,5400,5450], "title": null, "ticks": false, "labelPadding": 3, "labelFont": "Liberation Sans", "labelFontSize": 11, "labelColor": "#333333", "grid": true, "gridColor": "#bdb9bd", "gridWidth": 1, "domain": true, "domainColor": "#454545", "domainWidth": 1.5, "labelFlush": false, "labelOverlap": false}}
      }
    },
    {
      "data": {"name": "niveaux"},
      "transform": [{"filter": "datum.k == 'saumon'"}],
      "mark": {"type": "rule", "color": "#f08a8a", "strokeWidth": 2.2},
      "encoding": {
        "x": {"field": "a", "type": "quantitative", "scale": {"domain": [-0.4286, 73.43], "nice": false, "zero": false, "padding": 0},
          "axis": {"orient": "bottom", "values": [29.08, 51.05, 64.05], "labelExpr": "datum.value < 40 ? 'Juillet 15' : datum.value < 60 ? 'Aout 15' : 'Septembre 15'", "title": "05/06/15 au 08/09/15\u00a0\u00a04604.960\u00a0\u00a0+1.22%\u00a0\u00a0\u00a015", "titleAnchor": "start", "titleAlign": "left", "titleBaseline": "top", "titleX": -1, "titleY": 1, "titleFont": "Liberation Sans", "titleFontSize": 11, "titleFontWeight": "normal", "titleColor": "#333333", "ticks": false, "grid": false, "domain": true, "domainColor": "#101010", "domainWidth": 1.5, "labelFont": "Liberation Mono", "labelFontSize": 11, "labelColor": "#333333", "labelBaseline": "top", "labelPadding": 1, "labelFlush": false, "labelOverlap": false}},
        "x2": {"field": "b"},
        "y": {"field": "v", "type": "quantitative", "scale": {"domain": [4050, 5478], "nice": false, "zero": false, "padding": 0},
          "axis": {"orient": "right", "format": "d", "values": [4050,4100,4150,4200,4250,4300,4350,4400,4450,4500,4550,4600,4650,4700,4750,4800,4850,4900,4950,5000,5050,5100,5150,5200,5250,5300,5350,5400,5450], "title": null, "ticks": false, "labelPadding": 3, "labelFont": "Liberation Sans", "labelFontSize": 11, "labelColor": "#333333", "grid": true, "gridColor": "#bdb9bd", "gridWidth": 1, "domain": true, "domainColor": "#454545", "domainWidth": 1.5, "labelFlush": false, "labelOverlap": false}}
      }
    },
    {
      "data": {"name": "niveaux"},
      "transform": [{"filter": "datum.k == 'support'"}],
      "mark": {"type": "rule", "color": "#ff1a1a", "strokeWidth": 1.5},
      "encoding": {
        "x": {"field": "a", "type": "quantitative", "scale": {"domain": [-0.4286, 73.43], "nice": false, "zero": false, "padding": 0},
          "axis": {"orient": "bottom", "values": [29.08, 51.05, 64.05], "labelExpr": "datum.value < 40 ? 'Juillet 15' : datum.value < 60 ? 'Aout 15' : 'Septembre 15'", "title": "05/06/15 au 08/09/15\u00a0\u00a04604.960\u00a0\u00a0+1.22%\u00a0\u00a0\u00a015", "titleAnchor": "start", "titleAlign": "left", "titleBaseline": "top", "titleX": -1, "titleY": 1, "titleFont": "Liberation Sans", "titleFontSize": 11, "titleFontWeight": "normal", "titleColor": "#333333", "ticks": false, "grid": false, "domain": true, "domainColor": "#101010", "domainWidth": 1.5, "labelFont": "Liberation Mono", "labelFontSize": 11, "labelColor": "#333333", "labelBaseline": "top", "labelPadding": 1, "labelFlush": false, "labelOverlap": false}},
        "x2": {"field": "b"},
        "y": {"field": "v", "type": "quantitative", "scale": {"domain": [4050, 5478], "nice": false, "zero": false, "padding": 0},
          "axis": {"orient": "right", "format": "d", "values": [4050,4100,4150,4200,4250,4300,4350,4400,4450,4500,4550,4600,4650,4700,4750,4800,4850,4900,4950,5000,5050,5100,5150,5200,5250,5300,5350,5400,5450], "title": null, "ticks": false, "labelPadding": 3, "labelFont": "Liberation Sans", "labelFontSize": 11, "labelColor": "#333333", "grid": true, "gridColor": "#bdb9bd", "gridWidth": 1, "domain": true, "domainColor": "#454545", "domainWidth": 1.5, "labelFlush": false, "labelOverlap": false}}
      }
    }
  ]
}
